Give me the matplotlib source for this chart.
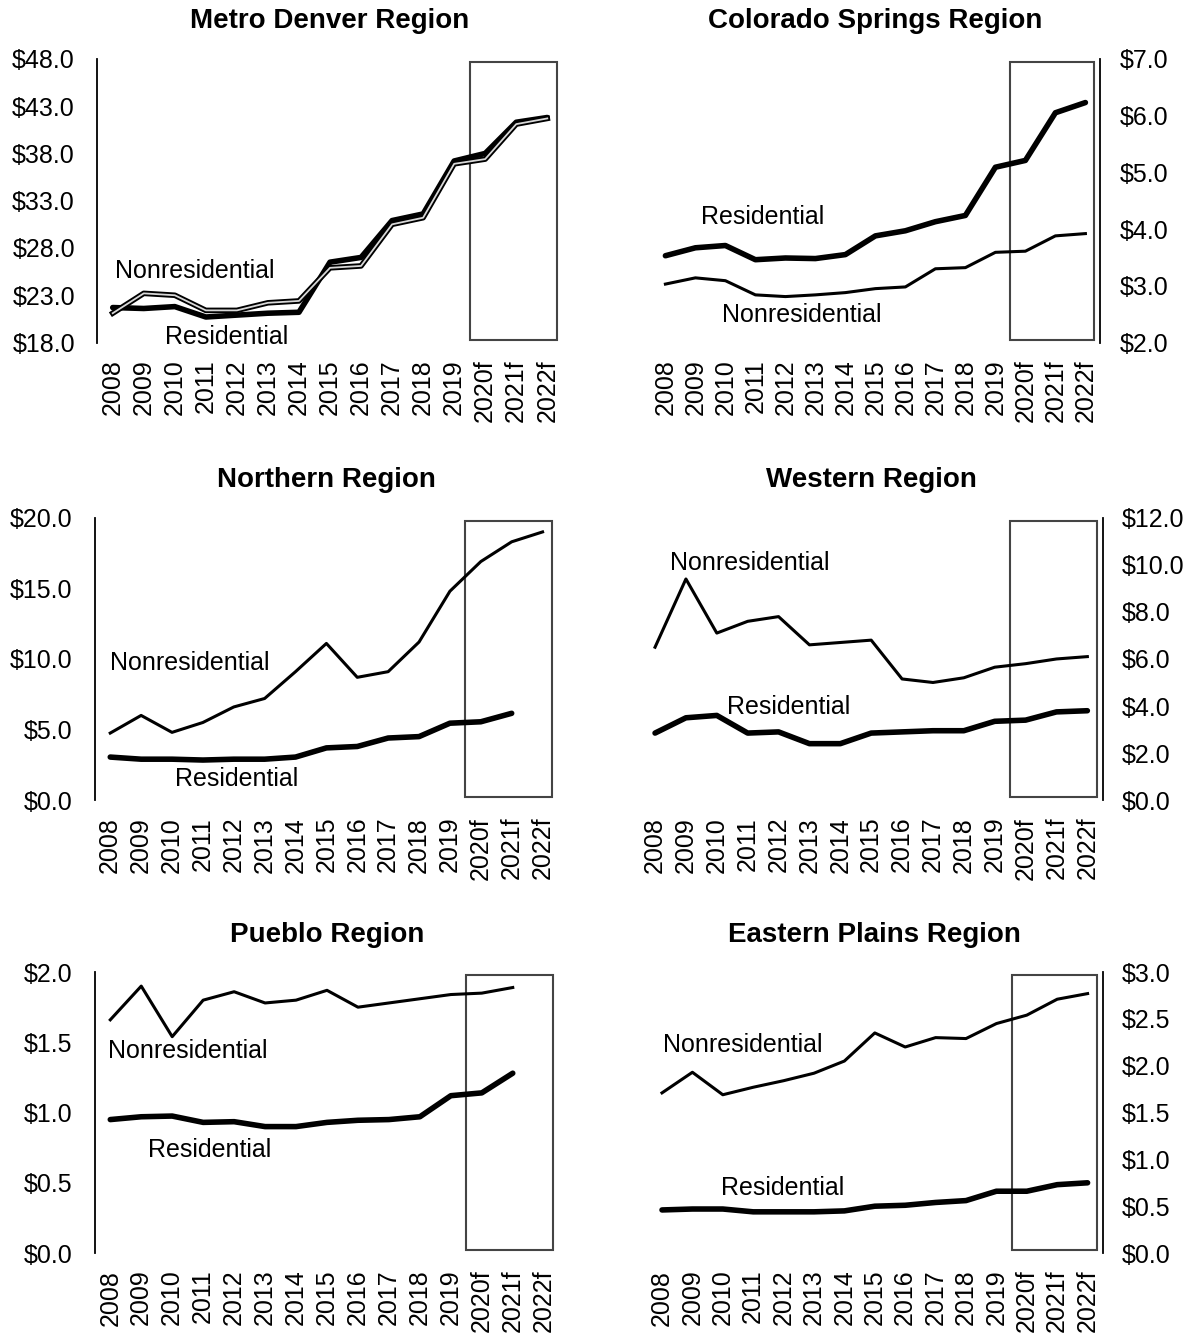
import numpy as np
import matplotlib.pyplot as plt
from matplotlib.patches import Rectangle

plt.rcParams['font.family'] = ['Liberation Sans', 'DejaVu Sans']

years = ['2008', '2009', '2010', '2011', '2012', '2013', '2014', '2015',
         '2016', '2017', '2018', '2019', '2020f', '2021f', '2022f']
nan = np.nan

# Metro Denver
denver_res = [21.7, 21.6, 21.8, 20.7, 20.9, 21.1, 21.2, 26.5, 27.0, 30.9, 31.6, 37.2, 38.0, 41.3, 41.8]
denver_non = [21.1, 23.2, 23.0, 21.4, 21.4, 22.2, 22.4, 25.9, 26.1, 30.5, 31.2, 36.9, 37.4, 41.1, 41.7]
# Colorado Springs
cs_res = [3.53, 3.67, 3.71, 3.46, 3.49, 3.48, 3.55, 3.88, 3.97, 4.13, 4.24, 5.09, 5.21, 6.05, 6.23]
cs_non = [3.03, 3.14, 3.09, 2.84, 2.81, 2.84, 2.88, 2.95, 2.98, 3.30, 3.32, 3.59, 3.61, 3.88, 3.92]
# Northern
north_res = [3.05, 2.9, 2.9, 2.84, 2.9, 2.9, 3.05, 3.7, 3.8, 4.4, 4.5, 5.45, 5.55, 6.15, nan]
north_non = [4.75, 6.0, 4.8, 5.5, 6.6, 7.2, 9.1, 11.1, 8.7, 9.1, 11.2, 14.8, 16.9, 18.3, 19.0]
# Western
west_res = [2.85, 3.5, 3.6, 2.85, 2.9, 2.4, 2.4, 2.85, 2.9, 2.95, 2.95, 3.35, 3.4, 3.75, 3.8]
west_non = [6.5, 9.4, 7.1, 7.6, 7.8, 6.6, 6.7, 6.8, 5.15, 5.0, 5.2, 5.65, 5.8, 6.0, 6.1]
# Pueblo
pueblo_res = [0.95, 0.97, 0.975, 0.93, 0.935, 0.90, 0.90, 0.93, 0.945, 0.95, 0.97, 1.12, 1.14, 1.28, nan]
pueblo_non = [1.66, 1.90, 1.54, 1.80, 1.86, 1.78, 1.80, 1.87, 1.75, 1.78, 1.81, 1.84, 1.85, 1.89, nan]
# Eastern Plains
east_res = [0.46, 0.47, 0.47, 0.44, 0.44, 0.44, 0.45, 0.50, 0.51, 0.54, 0.56, 0.66, 0.66, 0.73, 0.75]
east_non = [1.71, 1.93, 1.69, 1.77, 1.84, 1.92, 2.05, 2.35, 2.20, 2.30, 2.29, 2.45, 2.54, 2.71, 2.77]

FS = 18      # tick labels and line labels
TFS = 20     # titles

fig = plt.figure(figsize=(12, 13.38), dpi=100)

# [left, bottom, width, height], side, title, ylim, ystep, res, non, res label pos, non label pos
panels = [
    ([0.081, 0.744, 0.388, 0.212], 'left', 'Metro Denver Region', (18, 48), 5,
     denver_res, denver_non, (1.69, 18.6), (0.08, 25.6)),
    ([0.542, 0.744, 0.375, 0.212], 'right', 'Colorado Springs Region', (2, 7), 1,
     cs_res, cs_non, (1.17, 4.22), (1.9, 2.49)),
    ([0.079, 0.402, 0.386, 0.211], 'left', 'Northern Region', (0, 20), 5,
     north_res, north_non, (2.09, 1.5), (-0.01, 9.7)),
    ([0.533, 0.402, 0.386, 0.211], 'right', 'Western Region', (0, 12), 2,
     west_res, west_non, (2.32, 3.96), (0.5, 10.1)),
    ([0.079, 0.0635, 0.387, 0.210], 'left', 'Pueblo Region', (0, 2), 0.5,
     pueblo_res, pueblo_non, (1.22, 0.73), (-0.08, 1.44)),
    ([0.539, 0.0635, 0.380, 0.210], 'right', 'Eastern Plains Region', (0, 3), 0.5,
     east_res, east_non, (1.94, 0.69), (0.02, 2.22)),
]

x = np.arange(len(years))

for rect, side, title, ylim, step, res, non, rpos, npos in panels:
    ax = fig.add_axes(rect)
    ax.set_xlim(-0.5, len(years) - 0.5)
    ax.set_ylim(*ylim)
    if title == 'Metro Denver Region':
        # double-line look of the original scan
        ax.plot(x, res, color='black', lw=4.0, solid_capstyle='round')
        ax.plot(x, non, color='black', lw=4.0)
        ax.plot(x, non, color='#d8d8d8', lw=1.3)
    else:
        ax.plot(x, res, color='black', lw=4.0, solid_capstyle='round')
        ax.plot(x, non, color='black', lw=2.2)

    # forecast box
    y0, y1 = ylim
    ax.add_patch(Rectangle((11.5, y0 + (y1 - y0) * 0.01), 2.8, (y1 - y0) * 0.98,
                           fill=False, edgecolor='#444444', lw=1.5, clip_on=False))

    ax.text(rpos[0], rpos[1], 'Residential', fontsize=FS, va='center')
    ax.text(npos[0], npos[1], 'Nonresidential', fontsize=FS, va='center')

    ticks = np.arange(y0, y1 + step / 2, step)
    ax.set_yticks(ticks)
    ax.set_yticklabels(['${:.1f}'.format(t) for t in ticks], fontsize=FS)
    ax.set_xticks(x)
    ax.set_xticklabels(years, rotation=90, fontsize=FS)
    ax.tick_params(axis='both', length=0)
    ax.tick_params(axis='x', pad=12)

    for s in ['top', 'bottom', 'left', 'right']:
        ax.spines[s].set_visible(False)
    if side == 'left':
        ax.spines['left'].set_visible(True)
        ax.spines['left'].set_linewidth(1.3)
        ax.tick_params(axis='y', pad=16)
    else:
        ax.spines['right'].set_visible(True)
        ax.spines['right'].set_linewidth(1.3)
        ax.yaxis.tick_right()
        ax.tick_params(axis='y', pad=14, length=0)

    ax.set_title(title, fontsize=TFS, fontweight='bold', pad=22)

fig.savefig('out.png', dpi=100)
